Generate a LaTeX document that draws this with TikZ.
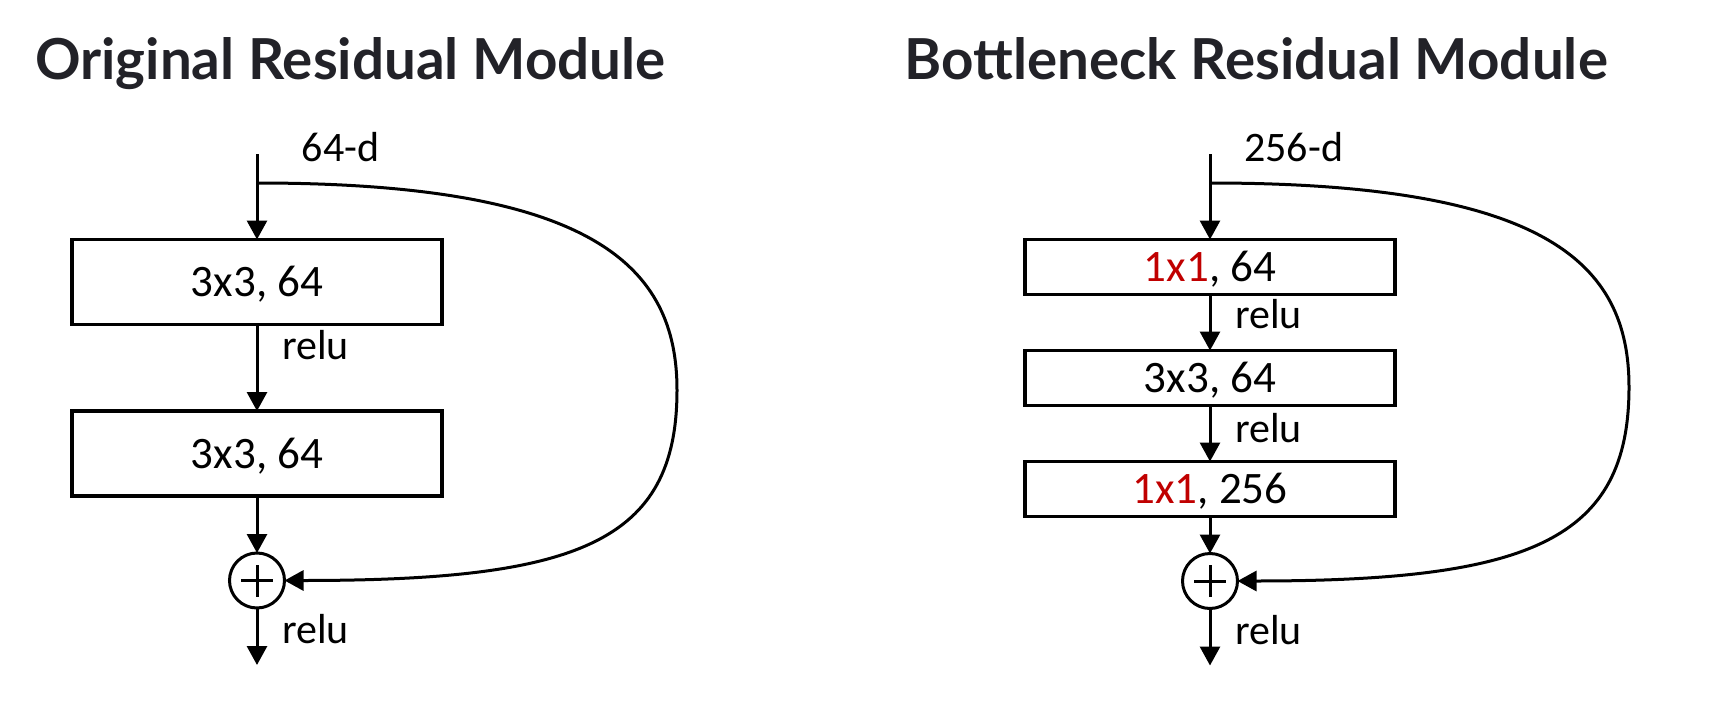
\documentclass[tikz,border=0pt]{standalone}
\usepackage{fontspec}
\setmainfont{Carlito}
\newfontfamily\titlefont{Lato}
\usepackage{tikz}
\usetikzlibrary{arrows.meta, positioning}
\definecolor{kernred}{RGB}{192,0,0}
\definecolor{titlegray}{RGB}{34,34,40}

\begin{document}
\begin{tikzpicture}[x=1pt, y=-1pt,
    box/.style={draw, rectangle, line width=3.2pt, minimum width=370pt, inner sep=0pt, outer sep=0pt, text height=29pt, text depth=0pt, font=\fontsize{45}{54}\selectfont},
    sum/.style={draw, circle, line width=3pt, minimum size=55pt, inner sep=0pt, outer sep=0pt,
        path picture={\draw[line width=3pt] (path picture bounding box.center) +(-16pt,0) -- +(16pt,0) +(0,-16pt) -- +(0,16pt);}},
    arrow/.style={-{Triangle[length=19pt, width=20pt]}, line width=3pt},
    lbl/.style={anchor=base west, inner sep=0pt, xshift=23.5pt, font=\fontsize{42}{50}\selectfont},
    dim/.style={anchor=base, inner sep=0pt, font=\fontsize{42}{50}\selectfont},
    title/.style={anchor=base west, inner sep=0pt, text=titlegray, font=\titlefont\bfseries\fontsize{56.5}{68}\selectfont}
]
\useasboundingbox (0,0) rectangle (1711,717);

\node[title] (titleL) at (35,80) {Original Residual Module};
\coordinate (inL) at (257,154);
\coordinate (brL) at (257,183);
\coordinate (turnL) at (677,390);
\node[dim] (dimL) at (340.5,161) {64-d};
\node[box, minimum height=85pt, anchor=north] (convL1) at (257,239.5) {3x3, 64};
\node[box, minimum height=85pt, below=86.5pt of convL1] (convL2) {3x3, 64};
\node[sum, below=57pt of convL2] (sumL) {};
\coordinate[below=57pt of sumL] (outL);

\draw[arrow] (inL) -- (convL1);
\draw[arrow] (convL1) -- node[lbl, pos=0.41] (reluL1) {relu} (convL2);
\draw[arrow] (convL2) -- (sumL);
\draw[arrow] (sumL) -- node[lbl, pos=0.63] (reluL2) {relu} (outL);
\draw[arrow] (brL) .. controls +(336,0) and +(0,-124) .. (turnL) .. controls +(0,153) and +(292.5,0) .. (sumL.east);

\node[title, anchor=base east] (titleR) at (1608,80) {Bottleneck Residual Module};
\coordinate (inR) at (1210,154);
\coordinate (brR) at (1210,183);
\coordinate (turnR) at (1629,387);
\node[dim] (dimR) at (1293.7,161) {256-d};
\node[box, minimum height=55pt, anchor=north] (convR1) at (1210,239.5) {\textcolor{kernred}{1x1}, 64};
\node[box, minimum height=55pt, below=56pt of convR1] (convR2) {3x3, 64};
\node[box, minimum height=55pt, below=56pt of convR2] (convR3) {\textcolor{kernred}{1x1}, 256};
\node[sum, below=37pt of convR3] (sumR) {};
\coordinate[below=57pt of sumR] (outR);

\draw[arrow] (inR) -- (convR1);
\draw[arrow] (convR1) -- node[lbl, pos=0.6] (reluR1) {relu} (convR2);
\draw[arrow] (convR2) -- node[lbl, pos=0.655] (reluR2) {relu} (convR3);
\draw[arrow] (convR3) -- (sumR);
\draw[arrow] (sumR) -- node[lbl, pos=0.63] (reluR3) {relu} (outR);
\draw[arrow] (brR) .. controls +(336,0) and +(0,-124) .. (turnR) .. controls +(0,153) and +(292.5,0) .. (sumR.east);
\end{tikzpicture}
\end{document}
